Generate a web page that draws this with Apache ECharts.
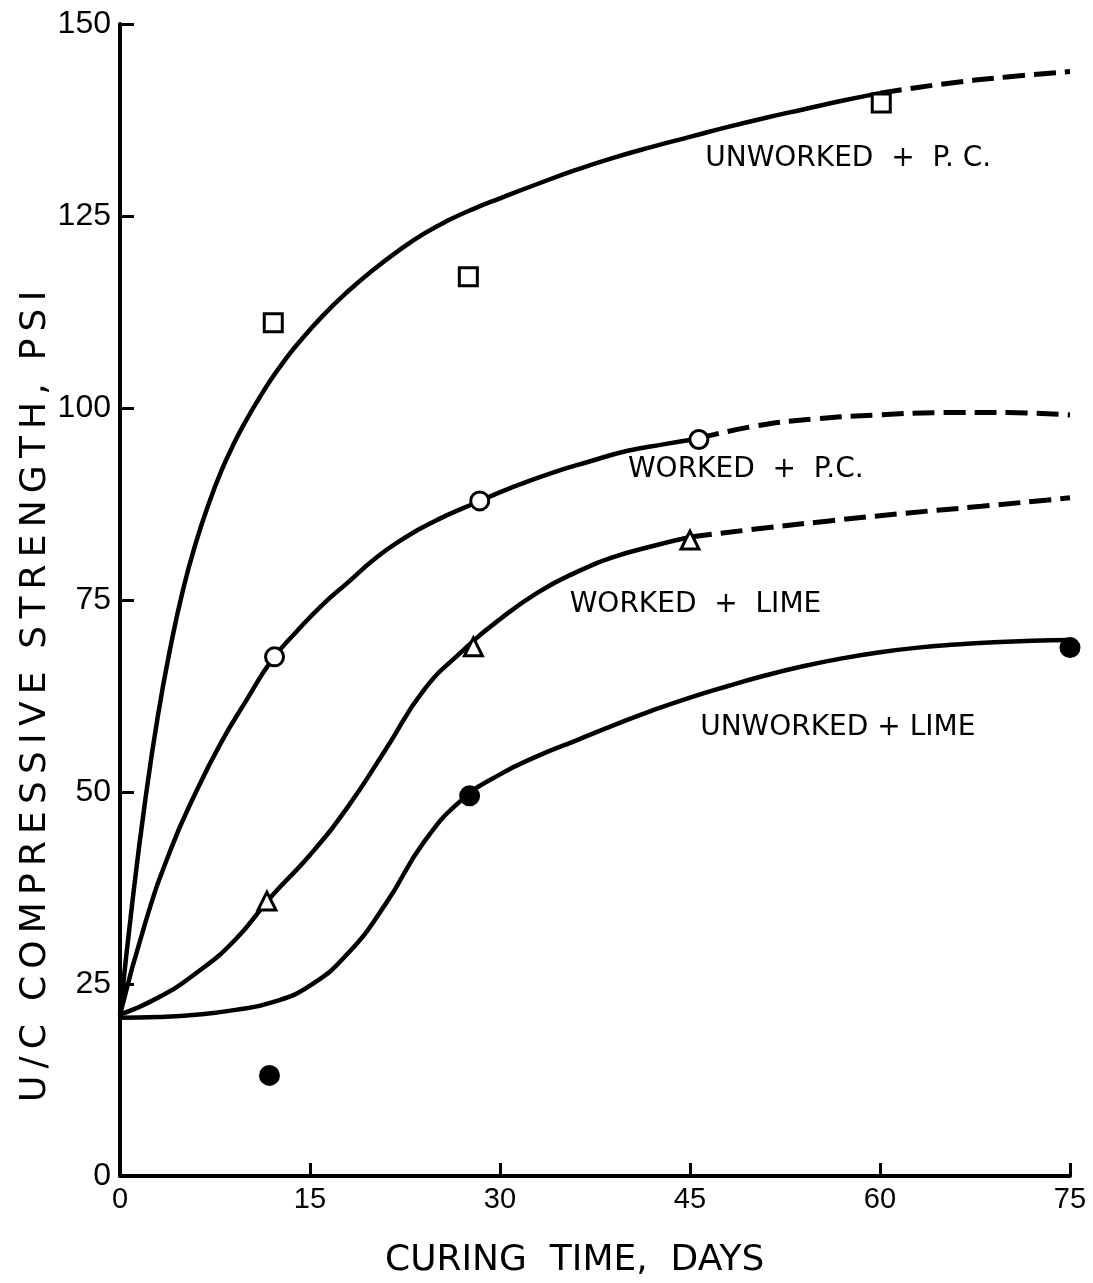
<!DOCTYPE html>
<html>
<head>
<meta charset="utf-8">
<script src="https://cdn.jsdelivr.net/npm/echarts@6/dist/echarts.min.js"></script>
<style>
  html, body { margin: 0; padding: 0; background: #fff; }
  #chart { width: 1093px; height: 1283px; }
</style>
</head>
<body>
<div id="chart"></div>
<script>
// Curing time (days) vs unconfined compressive strength (psi)

const xTicks = [0, 15, 30, 45, 60, 75];
const yTicks = [0, 25, 50, 75, 100, 125, 150];

// Fitted curves: solid through the tested range, dashed extrapolation beyond
const unworkedPcCurve = [[0, 21], [1, 36], [2, 49], [3, 60], [4, 69], [5, 76.5], [6, 82.5], [7, 87.5], [8, 91.8], [9, 95.4], [10, 98.5], [11, 101.3], [12, 103.9], [13, 106.2], [14, 108.3], [16, 112], [18, 115.2], [20, 118], [22, 120.5], [24, 122.7], [26, 124.5], [28, 126], [30, 127.3], [33, 129.2], [36, 131], [39, 132.6], [42, 134], [45, 135.3], [48, 136.6], [51, 137.8], [54, 138.9], [57, 140], [60, 141]];
const unworkedPcTrend = [[60, 141], [65, 142.2], [70, 143.1], [75, 143.8]];

const workedPcCurve = [[0, 21], [2, 33], [4, 42.5], [6, 50], [8, 56.5], [10, 62], [12, 67.2], [14, 71], [16, 74.4], [18, 77.3], [20, 80.2], [22, 82.6], [25, 85.4], [28, 87.6], [31, 89.7], [34, 91.5], [37, 93], [40, 94.4], [43, 95.3], [45.6, 96]];
const workedPcTrend = [[45.6, 96], [50, 97.6], [55, 98.6], [60, 99.1], [65, 99.4], [70, 99.4], [75, 99.1]];

const workedLimeCurve = [[0, 21], [3, 23.2], [6, 26.4], [9, 30.6], [12, 36.5], [15, 41.8], [18, 48.1], [21, 55.6], [24, 63.3], [27, 68.3], [30, 72.5], [33, 76], [36, 78.6], [39, 80.6], [42, 82], [45, 83.2]];
const workedLimeTrend = [[45, 83.2], [50, 84.2], [56, 85.3], [62, 86.3], [68, 87.2], [75, 88.3]];

const unworkedLimeCurve = [[0, 20.6], [3, 20.7], [6, 21], [9, 21.6], [12, 22.6], [15, 24.8], [18, 29], [21, 35.5], [24, 43.5], [27, 49], [30, 52.3], [33, 54.7], [36, 56.7], [39, 58.7], [42, 60.6], [45, 62.3], [48, 63.8], [51, 65.2], [54, 66.4], [57, 67.4], [60, 68.2], [63, 68.8], [66, 69.2], [69, 69.5], [72, 69.7], [75, 69.8]];

// Measured strengths
const unworkedPcPoints = [[12.1, 111.1], [27.5, 117.1], [60.1, 139.7]];
const workedPcPoints = [[12.2, 67.6], [28.4, 87.9], [45.7, 95.9]];
const workedLimePoints = [[11.6, 35.8], [27.9, 68.9], [45.0, 82.8]];
const unworkedLimePoints = [[11.8, 13.1], [27.6, 49.5], [75, 68.8]];

// Curve names, anchored at their left edge
const curveLabels = [
  [46.2, 132.5, 'UNWORKED  +  P. C.'],
  [40.1, 91.9, 'WORKED  +  P.C.'],
  [35.5, 74.4, 'WORKED  +  LIME'],
  [45.8, 58.4, 'UNWORKED + LIME']
];

const xTitle = 'CURING  TIME,  DAYS';
const yTitle = 'U/C  COMPRESSIVE  STRENGTH,  PSI';

const FONT = 'DejaVu Sans';
const NUM_FONT = 'Liberation Sans';
const INK = '#000';

// open lettering: a thin space after every glyph of a word
function spaced(text) {
  return text.split(' ').map(w => w.split('').join('\u2009')).join(' ');
}

function solid(data) {
  return { type: 'line', data, smooth: true, symbol: 'none', z: 2,
    lineStyle: { color: INK, width: 4.5 } };
}
function dashed(data) {
  return { type: 'line', data, smooth: true, symbol: 'none', z: 2,
    lineStyle: { color: INK, width: 5, type: [22, 9] } };
}
function markers(data, symbol, filled) {
  return { type: 'scatter', data, symbol, symbolSize: 18, z: 5, clip: false,
    itemStyle: { color: filled ? INK : '#fff', borderColor: INK, borderWidth: 3, opacity: 1 } };
}

const chart = echarts.init(document.getElementById('chart'), null, { renderer: 'canvas' });
chart.setOption({
  backgroundColor: '#fff',
  animation: false,
  grid: { left: 120, right: 23, top: 24, bottom: 107 },
  xAxis: {
    type: 'value', min: 0, max: 75, interval: 15,
    axisLine: { lineStyle: { color: INK, width: 4 } },
    axisTick: { inside: true, length: 13, lineStyle: { color: INK, width: 3 } },
    splitLine: { show: false },
    axisLabel: { color: INK, fontFamily: NUM_FONT, fontSize: 29, margin: 9,
      formatter: v => xTicks.includes(v) ? String(v) : '' }
  },
  yAxis: {
    type: 'value', min: 0, max: 150, interval: 25,
    axisLine: { show: true, lineStyle: { color: INK, width: 4 } },
    axisTick: { show: true, inside: true, length: 14, lineStyle: { color: INK, width: 3 } },
    splitLine: { show: false },
    axisLabel: { color: INK, fontFamily: NUM_FONT, fontSize: 32, margin: 9,
      formatter: v => yTicks.includes(v) ? String(v) : '' }
  },
  graphic: [
    { type: 'text', left: 385, top: 1243,
      style: { text: xTitle, fill: INK, font: '36px "' + FONT + '"' } },
    { type: 'text', x: 18, y: 1102, rotation: Math.PI / 2,
      style: { text: spaced(yTitle), fill: INK, font: '36px "' + FONT + '"' } }
  ],
  series: [
    solid(unworkedPcCurve), dashed(unworkedPcTrend),
    solid(workedPcCurve), dashed(workedPcTrend),
    solid(workedLimeCurve), dashed(workedLimeTrend),
    solid(unworkedLimeCurve),
    markers(unworkedPcPoints, 'rect', false),
    markers(workedPcPoints, 'circle', false),
    markers(workedLimePoints, 'triangle', false),
    markers(unworkedLimePoints, 'circle', true),
    {
      type: 'scatter', data: curveLabels, symbolSize: 0, z: 6,
      itemStyle: { opacity: 1 },
      label: { show: true, position: 'right', distance: 0, color: INK,
        fontFamily: FONT, fontSize: 28, formatter: p => p.value[2] }
    }
  ]
});
</script>
</body>
</html>
